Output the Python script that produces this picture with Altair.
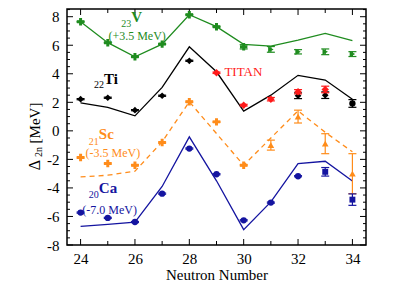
import altair as alt
import pandas as pd

FONT = "Liberation Serif"

N = [24, 25, 26, 27, 28, 29, 30, 31, 32, 33, 34]

# 23V (+3.5 MeV)
V_THEORY = [7.65, 6.18, 5.19, 6.08, 8.14, 7.30, 6.06, 5.94, 6.36, 6.83, 6.32]
V_N_STAR = [24, 25, 26, 27, 28, 29, 30]
V_STAR = [7.65, 6.18, 5.19, 6.08, 8.14, 7.30, 5.89]
V_STAR_ERR = [0.03, 0.03, 0.03, 0.03, 0.03, 0.03, 0.15]
V_N_TRI = [31, 32, 33, 34]
V_TRI = [5.71, 5.54, 5.54, 5.38]
V_TRI_ERR = [0.20, 0.15, 0.20, 0.17]

# 22Ti
TI_THEORY = [1.96, 1.64, 1.05, 3.05, 5.89, 4.14, 1.38, 2.50, 3.89, 3.56, 2.22]
TI_N_EXP = [24, 25, 26, 27, 28, 32, 33]
TI_EXP = [2.22, 2.32, 1.45, 2.46, 4.91, 2.46, 2.50]
TI_EXP_ERR = [0.04, 0.04, 0.04, 0.04, 0.04, 0.20, 0.23]
TI_N_NEW = [34]
TI_NEW = [1.92]
TI_NEW_ERR = [0.27]
TITAN_N = [29, 30, 31, 32, 33]
TITAN = [4.07, 1.80, 2.22, 2.74, 2.90]
TITAN_ERR = [0.05, 0.06, 0.12, 0.15, 0.23]

# 21Sc (-3.5 MeV)
SC_THEORY = [-3.23, -3.11, -2.83, -0.77, 2.04, -0.19, -2.41, -0.50, 1.40, -0.10, -1.47]
SC_N_STAR = [24, 25, 26, 27, 28, 29, 30]
SC_STAR = [-1.87, -2.29, -2.41, -0.82, 2.04, 0.63, -2.41]
SC_STAR_ERR = [0.04, 0.04, 0.04, 0.04, 0.04, 0.04, 0.04]
SC_N_TRI = [31, 32, 33, 34]
SC_TRI = [-1.00, 1.00, -0.90, -3.00]
SC_TRI_ERR = [0.35, 0.45, 0.70, 1.40]

# 20Ca (-7.0 MeV)
CA_THEORY = [-6.69, -6.55, -6.39, -3.90, -0.42, -3.50, -6.92, -4.98, -2.29, -2.13, -3.51]
CA_N_EXP = [24, 25, 26, 27, 28, 29, 30, 31, 32]
CA_EXP = [-5.73, -6.10, -6.39, -4.40, -1.24, -3.04, -6.27, -5.03, -3.18]
CA_EXP_ERR = [0.04, 0.04, 0.04, 0.04, 0.04, 0.04, 0.04, 0.04, 0.04]
CA_N_NEW = [33, 34]
CA_NEW = [-2.87, -4.82]
CA_NEW_ERR = [0.30, 0.40]

X_MAJOR = [24, 26, 28, 30, 32, 34]
X_MINOR = [25, 27, 29, 31, 33]
Y_MAJOR = [-8, -6, -4, -2, 0, 2, 4, 6, 8]
Y_MINOR = [-7.5, -7, -6.5, -5.5, -5, -4.5, -3.5, -3, -2.5, -1.5, -1, -0.5,
           0.5, 1, 1.5, 2.5, 3, 3.5, 4.5, 5, 5.5, 6.5, 7, 7.5, 8.5]

GREEN = "#1f8c1f"
BLACK = "#000000"
RED = "#ff1a1a"
ORANGE = "#ff8c1a"
BLUE = "#1414a0"

W, H = 299, 236
xs = alt.Scale(domain=[23.5, 34.5], nice=False, zero=False)
ys = alt.Scale(domain=[-8, 8.54], nice=False, zero=False)

xaxis = alt.Axis(values=X_MAJOR, ticks=False, tickSize=0, domain=False, grid=False,
                 labelFont=FONT, labelFontSize=15, labelColor="black", labelPadding=6,
                 labelExpr="'' + datum.value",
                 title="Neutron Number", titleFont=FONT, titleFontSize=15,
                 titleFontWeight="normal", titleColor="black", titlePadding=1)
yaxis = alt.Axis(values=Y_MAJOR, ticks=False, tickSize=0, domain=False, grid=False,
                 labelFont=FONT, labelFontSize=15, labelColor="black", labelPadding=8,
                 labelExpr="'' + datum.value", title="")


def ex(field="n"):
    return alt.X(f"{field}:Q", scale=xs, axis=xaxis)


def ey(field="v"):
    return alt.Y(f"{field}:Q", scale=ys, axis=yaxis)


def theory(vals, color, dash=None):
    df = pd.DataFrame({"n": N, "v": vals})
    kw = dict(color=color, strokeWidth=1.3)
    if dash:
        kw["strokeDash"] = dash
    return alt.Chart(df).mark_line(**kw).encode(x=ex(), y=ey())


def points(ns, vs, errs, color, shape, size):
    df = pd.DataFrame({
        "n": ns, "v": vs,
        "lo": [v - e for v, e in zip(vs, errs)],
        "hi": [v + e for v, e in zip(vs, errs)],
    })
    base = alt.Chart(df)
    bar = base.mark_rule(color=color, strokeWidth=1.2).encode(
        x=ex(), y=ey("lo"), y2=alt.Y2("hi"))
    cap_lo = base.mark_rule(color=color, strokeWidth=1.2, xOffset=-4, x2Offset=4).encode(
        x=ex(), x2=alt.X2("n"), y=ey("lo"))
    cap_hi = base.mark_rule(color=color, strokeWidth=1.2, xOffset=-4, x2Offset=4).encode(
        x=ex(), x2=alt.X2("n"), y=ey("hi"))
    pts = base.mark_point(shape=shape, size=size, filled=True, color=color,
                          opacity=1, strokeWidth=0).encode(x=ex(), y=ey())
    return [bar, cap_lo, cap_hi, pts]


def label(n, v, text, color, size, bold=False, align="left"):
    df = pd.DataFrame({"n": [n], "v": [v], "t": [text]})
    return alt.Chart(df).mark_text(
        font=FONT, fontSize=size, fontWeight="bold" if bold else "normal",
        color=color, align=align, baseline="middle").encode(
        x=ex(), y=ey(), text="t:N")


def ticks():
    out = []
    for vals, ln in ((X_MAJOR, 6), (X_MINOR, 4)):
        df = pd.DataFrame({"n": vals})
        out.append(alt.Chart(df).mark_rule(color="black", strokeWidth=1).encode(
            x=ex(), y=alt.value(H), y2=alt.value(H - ln)))
        out.append(alt.Chart(df).mark_rule(color="black", strokeWidth=1).encode(
            x=ex(), y=alt.value(0), y2=alt.value(ln)))
    for vals, ln in ((Y_MAJOR, 6), (Y_MINOR, 3)):
        df = pd.DataFrame({"v": vals})
        out.append(alt.Chart(df).mark_rule(color="black", strokeWidth=1).encode(
            y=ey(), x=alt.value(0), x2=alt.value(ln)))
        out.append(alt.Chart(df).mark_rule(color="black", strokeWidth=1).encode(
            y=ey(), x=alt.value(W), x2=alt.value(W - ln)))
    return out


def ytitle(text, size, x, y):
    return alt.Chart(pd.DataFrame({"a": [0]})).mark_text(
        text=text, font=FONT, fontSize=size, angle=270, align="center",
        baseline="middle", color="black").encode(x=alt.value(x), y=alt.value(y))


layers = []
layers += ticks()
layers.append(theory(V_THEORY, GREEN))
layers.append(theory(TI_THEORY, BLACK))
layers.append(theory(SC_THEORY, ORANGE, [5, 4]))
layers.append(theory(CA_THEORY, BLUE))
layers += points(V_N_STAR, V_STAR, V_STAR_ERR, GREEN, "cross", 55)
layers += points(V_N_TRI, V_TRI, V_TRI_ERR, GREEN, "triangle-right", 40)
layers += points(TI_N_EXP, TI_EXP, TI_EXP_ERR, BLACK, "diamond", 45)
layers += points(TI_N_NEW, TI_NEW, TI_NEW_ERR, BLACK, "circle", 40)
layers += points(TITAN_N, TITAN, TITAN_ERR, RED, "diamond", 55)
layers += points(SC_N_STAR, SC_STAR, SC_STAR_ERR, ORANGE, "cross", 55)
layers += points(SC_N_TRI, SC_TRI, SC_TRI_ERR, ORANGE, "triangle-up", 45)
layers += points(CA_N_EXP, CA_EXP, CA_EXP_ERR, BLUE, "circle", 40)
layers += points(CA_N_NEW, CA_NEW, CA_NEW_ERR, BLUE, "square", 35)

# element annotations
layers.append(label(25.86, 8.0, "V", GREEN, 15, bold=True))
layers.append(label(25.86, 7.51, "23", GREEN, 10, align="right"))
layers.append(label(26.08, 6.66, "(+3.5 MeV)", GREEN, 12, align="center"))
layers.append(label(24.86, 3.6, "Ti", BLACK, 15, bold=True))
layers.append(label(24.86, 3.2, "22", BLACK, 10, align="right"))
layers.append(label(29.29, 4.14, "TITAN", RED, 13))
layers.append(label(24.67, -0.25, "Sc", ORANGE, 15, bold=True))
layers.append(label(24.67, -0.76, "21", ORANGE, 10, align="right"))
layers.append(label(25.19, -1.55, "(-3.5 MeV)", ORANGE, 12, align="center"))
layers.append(label(24.67, -4.0, "Ca", BLUE, 15, bold=True))
layers.append(label(24.67, -4.48, "20", BLUE, 10, align="right"))
layers.append(label(25.07, -5.58, "(-7.0 MeV)", BLUE, 12, align="center"))

# y-axis title: Delta_2n [MeV]
layers.append(ytitle("Δ", 16, -32, 156))
layers.append(ytitle("2n", 10, -28, 143))
layers.append(ytitle("[MeV]", 15, -32, 114))

chart = alt.layer(*layers).properties(
    width=W, height=H,
    autosize=alt.AutoSizeParams(type="none"),
    padding={"left": 59, "top": 1, "right": 10, "bottom": 36},
).configure_view(stroke="black", strokeWidth=1.5)

chart.save("out.html", embed_options={"renderer": "svg", "actions": False})
